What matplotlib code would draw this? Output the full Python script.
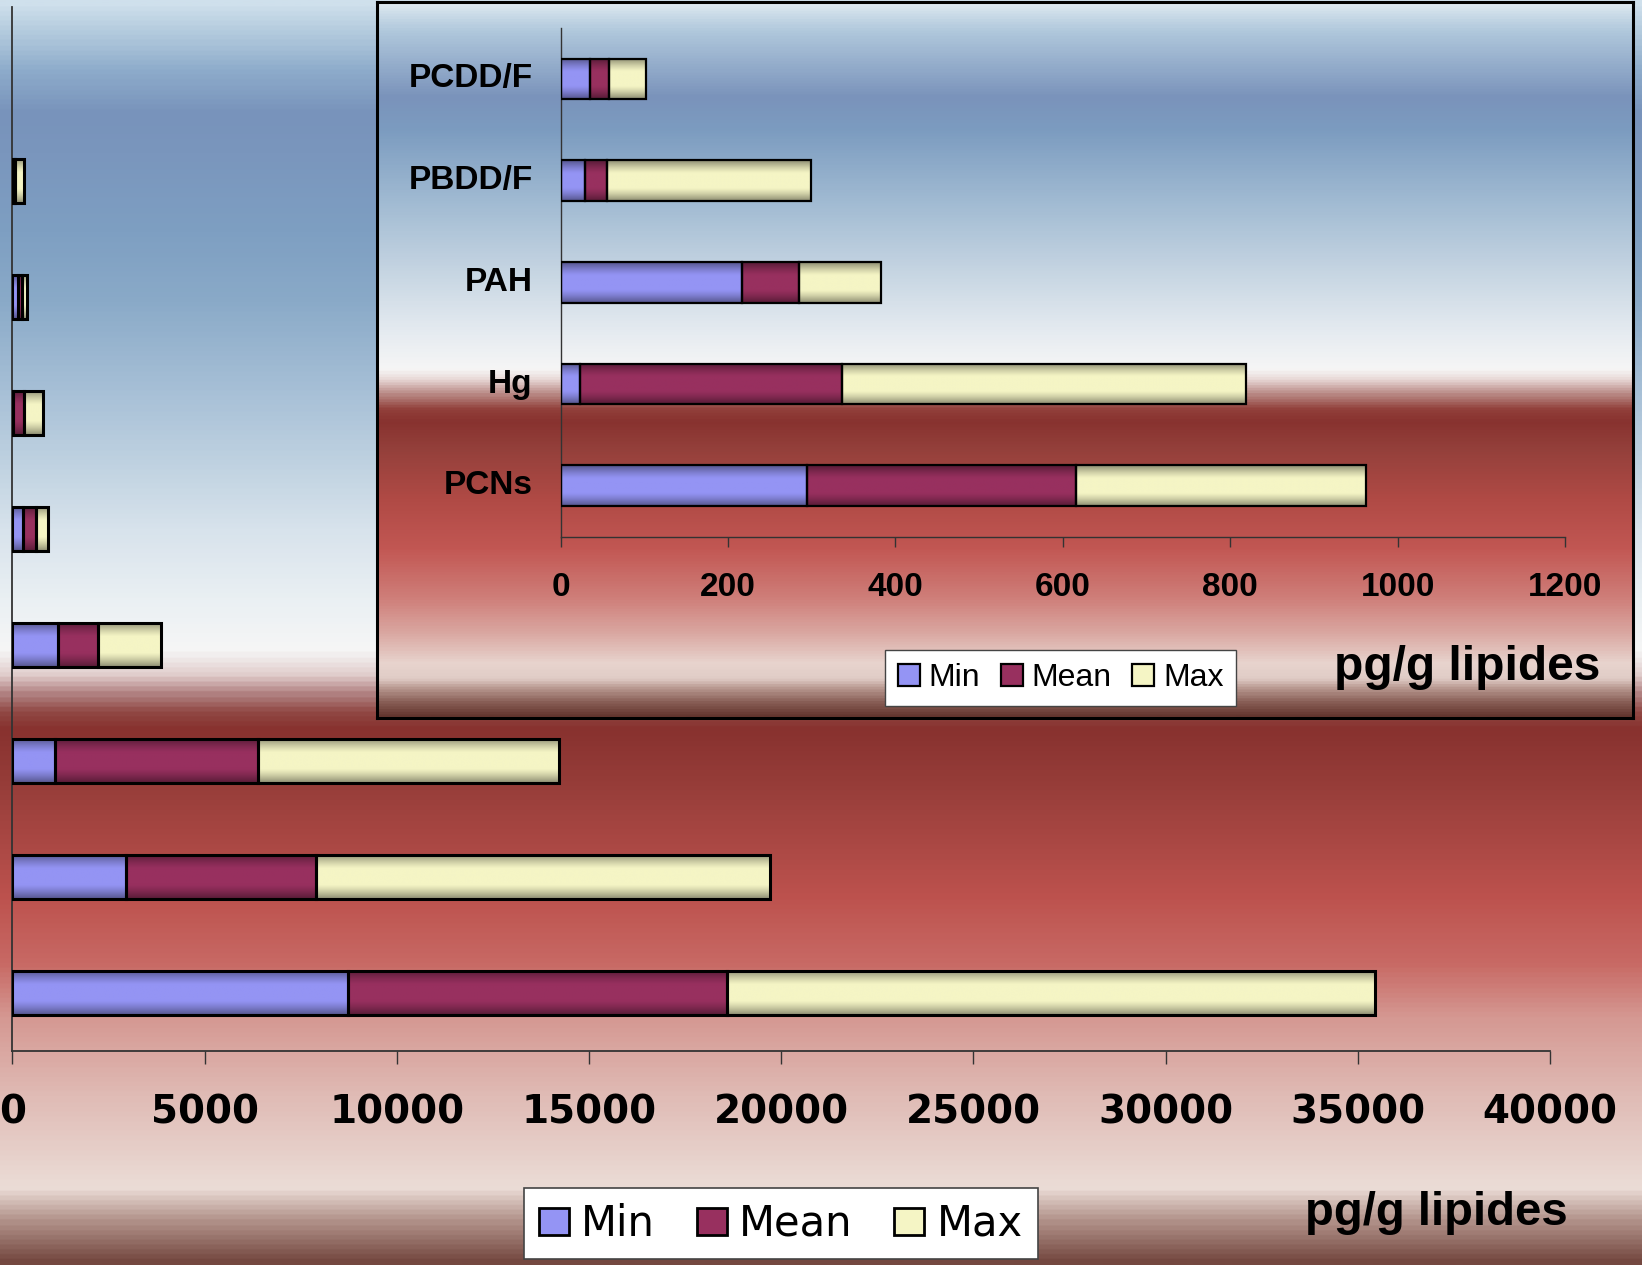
import numpy as np
import matplotlib
matplotlib.use('Agg')
import matplotlib.pyplot as plt
from matplotlib.colors import LinearSegmentedColormap, to_rgb
from matplotlib.font_manager import FontProperties
from matplotlib.patches import Patch
from matplotlib.transforms import ScaledTranslation

dpi = 100
W, H = 1642, 1265

series = ['Min', 'Mean', 'Max']
series_colors = ['#9494f4', '#98305f', '#f5f5c5']
unit_label = 'pg/g lipides'

# big chart, bottom bar first; stacked segment lengths
main_min = [8720, 2950, 1100, 1200, 270, 10, 150, 40]
main_mean = [9860, 4955, 5280, 1030, 340, 290, 110, 40]
main_max = [16860, 11795, 7830, 1630, 330, 500, 110, 220]
main_ticks = [0, 5000, 10000, 15000, 20000, 25000, 30000, 35000, 40000]

# small chart, bottom bar first
inset_labels = ['PCNs', 'Hg', 'PAH', 'PBDD/F', 'PCDD/F']
inset_min = [295, 23.5, 216.5, 29.5, 35.5]
inset_mean = [321, 312.5, 68.5, 25.5, 22.3]
inset_max = [346.5, 483, 98, 244, 44.5]
inset_ticks = [0, 200, 400, 600, 800, 1000, 1200]

main_bg = [(0.0, '#cfe0ec'), (0.026, '#b0c8dc'), (0.053, '#8eaccb'), (0.087, '#7893bb'),
           (0.119, '#7a96bd'), (0.182, '#7e9fc2'), (0.237, '#8aaac8'), (0.316, '#aac2d8'),
           (0.372, '#c2d4e2'), (0.419, '#d8e3ec'), (0.474, '#eaf0f3'), (0.514, '#f6f6f6'),
           (0.534, '#e0cccb'), (0.549, '#b08080'), (0.563, '#904844'), (0.577, '#88322f'),
           (0.625, '#983e3a'), (0.711, '#bd524e'), (0.764, '#c86a65'), (0.806, '#d59892'),
           (0.870, '#e0bcb6'), (0.941, '#ebdcd6'), (0.968, '#b09088'), (1.0, '#744840')]
inset_bg = [(0.0, '#dce8f0'), (0.038, '#b0c8dc'), (0.131, '#7a93bb'), (0.178, '#7c9cc0'),
            (0.276, '#a0bad2'), (0.387, '#cad8e4'), (0.457, '#e4eaf0'), (0.513, '#f6f6f6'),
            (0.527, '#e8d8d6'), (0.548, '#b88884'), (0.569, '#92403b'), (0.586, '#88322f'),
            (0.625, '#94403b'), (0.695, '#b04a45'), (0.765, '#c25753'), (0.835, '#cf7f7a'),
            (0.884, '#daa8a2'), (0.926, '#e8d4ce'), (0.947, '#e0ccc6'), (0.961, '#b89890'),
            (0.979, '#8a6058'), (1.0, '#64362f')]

fig = plt.figure(figsize=(W / dpi, H / dpi), dpi=dpi)


def gradient_axes(rect, stops, zorder):
  a = fig.add_axes(rect, zorder=zorder)
  cmap = LinearSegmentedColormap.from_list('bg', stops)
  a.imshow(np.linspace(0, 1, 800)[:, None], cmap=cmap, aspect='auto',
           extent=(0, 1, 0, 1), origin='upper', interpolation='bilinear')
  a.set_xlim(0, 1)
  a.set_ylim(0, 1)
  a.set_xticks([])
  a.set_yticks([])
  return a


def shade(color, n=48):
  # flat bright middle, darker bands at top and bottom of each bar
  t = np.abs(np.linspace(-1, 1, n))
  f = 1 - 0.42 * np.clip((t - 0.35) / 0.65, 0, 1) ** 1.3
  rgb = np.array(to_rgb(color))
  return np.repeat((f[:, None] * rgb[None, :])[:, None, :], 4, axis=1)


def draw_bars(ax, segs, height, lw):
  pos = np.arange(len(segs[0]))
  left = np.zeros(len(pos))
  for vals, col in zip(segs, series_colors):
    bars = ax.barh(pos, vals, height, left=left, facecolor='none',
                   edgecolor='black', linewidth=lw, zorder=3)
    img = shade(col)
    for r in bars:
      x0, y0 = r.get_x(), r.get_y()
      ax.imshow(img, extent=(x0, x0 + r.get_width(), y0, y0 + r.get_height()),
                aspect='auto', interpolation='bilinear', zorder=2)
    left = left + np.asarray(vals)


def style_axes(ax, spine_lw):
  ax.set_facecolor('none')
  for s in ('top', 'right'):
    ax.spines[s].set_visible(False)
  for s in ('left', 'bottom'):
    ax.spines[s].set_color('#333333')
    ax.spines[s].set_linewidth(spine_lw)


# page background
bg = gradient_axes([0, 0, 1, 1], main_bg, -2)
for s in bg.spines.values():
  s.set_visible(False)

# big chart
ax = fig.add_axes([12.3 / W, 1 - 1051 / H, (1550 - 12.3) / W, (1051 - 7) / H], zorder=0)
style_axes(ax, 1.3)
draw_bars(ax, [main_min, main_mean, main_max], 0.38, 2.2)
ax.set_xlim(0, 40000)
ax.set_ylim(-0.5, 8.5)
ax.set_yticks([])
ax.set_xticks(main_ticks)
ax.set_xticklabels([str(t) for t in main_ticks])
ax.tick_params(axis='x', direction='out', length=9.5, width=1, color='#333333', pad=21)
for lab in ax.get_xticklabels():
  lab.set_fontproperties(FontProperties(family='DejaVu Sans', weight='bold', size=28))

# inset frame with its own background
box = gradient_axes([377 / W, 1 - 718 / H, (1633 - 377) / W, (718 - 2) / H], inset_bg, 1)
for s in box.spines.values():
  s.set_linewidth(2.2)
  s.set_color('black')

ax2 = fig.add_axes([560.5 / W, 1 - 536.7 / H, (1565 - 560.5) / W, (536.7 - 28) / H], zorder=2)
style_axes(ax2, 1.0)
draw_bars(ax2, [inset_min, inset_mean, inset_max], 0.4, 1.6)
ax2.set_xlim(0, 1200)
ax2.set_ylim(-0.5, 4.5)
ax2.set_yticks(np.arange(len(inset_labels)))
ax2.set_yticklabels(inset_labels)
ax2.set_xticks(inset_ticks)
ax2.set_xticklabels([str(t) for t in inset_ticks])
ax2.tick_params(axis='x', direction='out', length=7.2, width=1, color='#333333', pad=18)
ax2.tick_params(axis='y', length=0, pad=20)
bold24 = FontProperties(family='Liberation Sans', weight='bold', size=24)
for lab in ax2.get_xticklabels() + ax2.get_yticklabels():
  lab.set_fontproperties(bold24)
lift = ScaledTranslation(0, 2.5 / 72, fig.dpi_scale_trans)
for lab in ax2.get_yticklabels():
  lab.set_transform(lab.get_transform() + lift)

# legends
handles = [Patch(facecolor=c, edgecolor='black', linewidth=2) for c in series_colors]
leg = fig.legend(handles, series, loc='center', bbox_to_anchor=(0.4755, 0.0325), ncol=3,
                 prop=FontProperties(family='DejaVu Sans', size=30), frameon=True,
                 fancybox=False, framealpha=1, edgecolor='#444444',
                 handlelength=0.72, handleheight=0.62, handletextpad=0.3,
                 columnspacing=1.0, borderpad=0.35)
leg.get_frame().set_linewidth(1.2)

handles2 = [Patch(facecolor=c, edgecolor='black', linewidth=1.6) for c in series_colors]
leg2 = fig.legend(handles2, series, loc='center', bbox_to_anchor=(0.6460, 0.464), ncol=3,
                  prop=FontProperties(family='Liberation Sans', size=23), frameon=True,
                  fancybox=False, framealpha=1, edgecolor='#444444',
                  handlelength=0.68, handleheight=0.7, handletextpad=0.28,
                  columnspacing=0.65, borderpad=0.4)
leg2.get_frame().set_linewidth(1.0)

# unit labels
fig.text(1305 / W, 1 - 1225 / H, unit_label, ha='left', va='baseline',
         fontproperties=FontProperties(family='Liberation Sans', weight='bold', size=34))
fig.text(1334 / W, 1 - 680 / H, unit_label, ha='left', va='baseline', zorder=6,
         fontproperties=FontProperties(family='Liberation Sans', weight='bold', size=34.5))

fig.savefig('out.png', dpi=dpi)
